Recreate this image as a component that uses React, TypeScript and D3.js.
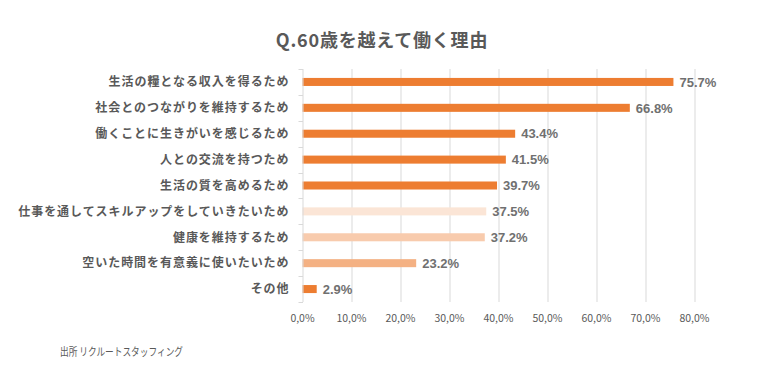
import React, { useEffect, useRef } from 'react';
import * as d3 from 'd3';

const categories = [
  '生活の糧となる収入を得るため',
  '社会とのつながりを維持するため',
  '働くことに生きがいを感じるため',
  '人との交流を持つため',
  '生活の質を高めるため',
  '仕事を通してスキルアップをしていきたいため',
  '健康を維持するため',
  '空いた時間を有意義に使いたいため',
  'その他',
];
const values = [75.7, 66.8, 43.4, 41.5, 39.7, 37.5, 37.2, 23.2, 2.9];
const barColors = ['#ED7D31', '#ED7D31', '#ED7D31', '#ED7D31', '#ED7D31', '#FBE5D6', '#F8CBAD', '#F4B183', '#ED7D31'];
const xTicks = [0, 10, 20, 30, 40, 50, 60, 70, 80];

const FONT = '"Noto Sans CJK JP", "Noto Sans", sans-serif';
const NUM_FONT = '"Liberation Sans", Arial, sans-serif';

export default function App() {
  const svgRef = useRef<SVGSVGElement>(null);

  useEffect(() => {
    if (!svgRef.current) return;
    const width = 762;
    const height = 388;
    const margin = { top: 69, left: 302.5, right: 67.5, bottom: 86 };
    const innerW = width - margin.left - margin.right;
    const innerH = height - margin.top - margin.bottom;

    const svg = d3.select(svgRef.current);
    svg.selectAll('*').remove();

    svg.append('rect').attr('width', width).attr('height', height).attr('fill', '#fff');

    // Title
    svg.append('text')
      .attr('x', 382)
      .attr('y', 47)
      .attr('text-anchor', 'middle')
      .style('font-family', FONT)
      .style('font-size', '18px')
      .style('letter-spacing', '0.8px')
      .style('font-weight', '700')
      .style('fill', '#595959')
      .text('Q.60歳を越えて働く理由');

    const g = svg.append('g').attr('transform', `translate(${margin.left},${margin.top})`);

    const x = d3.scaleLinear().domain([0, 80]).range([0, innerW]);
    const y = d3.scaleBand().domain(categories).range([0, innerH]).paddingInner(0.69).paddingOuter(0.345);

    // Gridlines
    g.append('g')
      .selectAll('line')
      .data(xTicks.slice(1))
      .enter()
      .append('line')
      .attr('x1', d => Math.round(x(d)) + 0.5)
      .attr('x2', d => Math.round(x(d)) + 0.5)
      .attr('y1', 0)
      .attr('y2', innerH)
      .attr('stroke', '#D9D9D9')
      .attr('stroke-width', 1);

    // X tick labels
    g.append('g')
      .selectAll('text')
      .data(xTicks)
      .enter()
      .append('text')
      .attr('x', d => x(d))
      .attr('y', innerH + 20)
      .attr('text-anchor', 'middle')
      .style('font-family', FONT)
      .style('font-size', '10.5px')
      .style('fill', '#595959')
      .text(d => d.toFixed(1).replace('.', ',') + '%');

    // Bars
    g.append('g')
      .selectAll('rect')
      .data(values)
      .enter()
      .append('rect')
      .attr('x', 0)
      .attr('y', (_d, i) => y(categories[i]) as number)
      .attr('width', d => x(d))
      .attr('height', y.bandwidth())
      .attr('fill', (_d, i) => barColors[i]);

    // Value labels
    g.append('g')
      .selectAll('text')
      .data(values)
      .enter()
      .append('text')
      .attr('x', d => x(d) + 6)
      .attr('y', (_d, i) => (y(categories[i]) as number) + y.bandwidth() / 2)
      .attr('dy', '0.36em')
      .style('font-family', NUM_FONT)
      .style('font-size', '13px')
      .style('font-weight', '700')
      .style('fill', '#707070')
      .text(d => d.toFixed(1) + '%');

    // Y axis line + ticks
    const step = innerH / categories.length;
    g.append('line')
      .attr('x1', 0.5).attr('x2', 0.5)
      .attr('y1', 0).attr('y2', innerH)
      .attr('stroke', '#D9D9D9');
    g.append('g')
      .selectAll('line')
      .data(d3.range(categories.length + 1))
      .enter()
      .append('line')
      .attr('x1', -4).attr('x2', 0.5)
      .attr('y1', d => Math.round(d * step) + 0.5)
      .attr('y2', d => Math.round(d * step) + 0.5)
      .attr('stroke', '#D9D9D9');

    // Category labels
    g.append('g')
      .selectAll('text')
      .data(categories)
      .enter()
      .append('text')
      .attr('x', -13)
      .attr('y', d => (y(d) as number) + y.bandwidth() / 2)
      .attr('dy', '0.36em')
      .attr('text-anchor', 'end')
      .style('font-family', FONT)
      .style('font-size', '12px')
      .style('letter-spacing', '0.95px')
      .style('font-weight', '700')
      .style('fill', '#595959')
      .text(d => d);

    // Source
    svg.append('text')
      .attr('x', 60)
      .attr('y', 356)
      .attr('textLength', 123)
      .attr('lengthAdjust', 'spacingAndGlyphs')
      .style('font-family', FONT)
      .style('font-size', '11px')
      .style('fill', '#595959')
      .text('出所 リクルートスタッフィング');
  }, []);

  return (
    <svg
      ref={svgRef}
      width={762}
      height={388}
      style={{ position: 'absolute', left: 0, top: 0, display: 'block' }}
    />
  );
}
